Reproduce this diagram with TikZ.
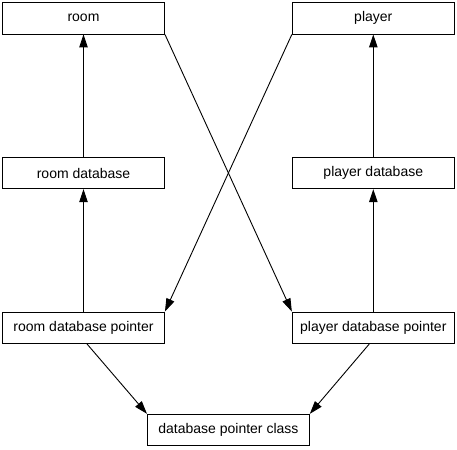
\documentclass[tikz,border=0pt]{standalone}
\usepackage{fontspec}
\setmainfont{Liberation Sans}
\usetikzlibrary{arrows.meta,calc}
\begin{document}
\begin{tikzpicture}[x=1pt,y=-1pt,
  box/.style={draw,line width=0.9pt,minimum width=162pt,minimum height=31.5pt,inner sep=0pt,
    font=\fontsize{14}{16}\selectfont},
  conn/.style={line width=0.9pt,-{Triangle[length=13pt,width=8.5pt]}}]
\useasboundingbox (0,0) rectangle (457,449);
\node[box] (room) at (83.5,18.25) {room};
\node[box] (player) at (373.3,18.25) {player};
\node[box] (rdb) at (83.5,173) {room database};
\node[box] (pdb) at (373.3,173) {player database};
\node[box] (rdp) at (83.5,327.75) {room database pointer};
\node[box] (pdp) at (373.3,327.75) {player database pointer};
\node[box] (dpc) at (228.4,430) {database pointer class};
\draw[conn] (rdb.north) -- (room.south);
\draw[conn] (rdp.north) -- (rdb.south);
\draw[conn] (pdb.north) -- (player.south);
\draw[conn] (pdp.north) -- (pdb.south);
\draw[conn] (room.south east) -- (pdp.north west);
\draw[conn] (player.south west) -- (rdp.north east);
\draw[conn] ($(rdp.south)+(3.5,0)$) -- (dpc.north west);
\draw[conn] ($(pdp.south)+(-4,0)$) -- (dpc.north east);
\end{tikzpicture}
\end{document}
